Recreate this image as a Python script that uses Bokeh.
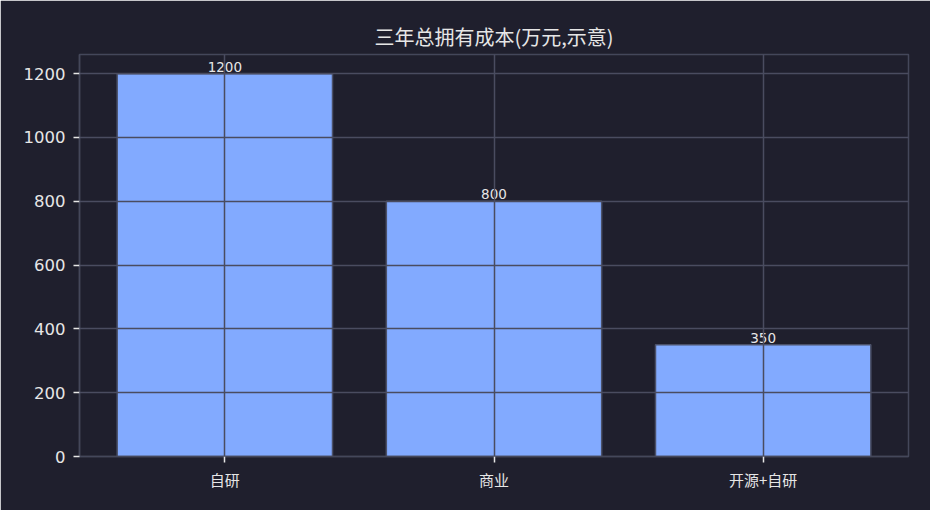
from bokeh.plotting import figure
from bokeh.models import ColumnDataSource, Range1d, FixedTicker, LabelSet
from bokeh.core.properties import value
from bokeh.embed import file_html
from bokeh.resources import INLINE

categories = ["自研", "商业", "开源+自研"]
values = [1200, 800, 350]
label_texts = ["1200", "800", "350"]
y_ticks = [0, 200, 400, 600, 800, 1000, 1200]

BG = "#1f1f2d"
BAR = "#82aaff"
EDGE = "#4b5169"
GRID = "#4a4c60"
SPINE = "#44475a"
TXT = "#e6e6e6"
CJK = "Noto Sans CJK SC"

xs = list(range(len(categories)))
src = ColumnDataSource(dict(x=xs, top=values, label=label_texts))

p = figure(width=930, height=510, output_backend="svg", toolbar_location=None,
           x_range=Range1d(-0.54, len(categories) - 1 + 0.54),
           y_range=Range1d(0, 1260),
           min_border_left=79, min_border_right=22, min_border_top=54, min_border_bottom=54,
           title="三年总拥有成本(万元,示意)")

p.background_fill_color = BG
p.border_fill_color = BG
p.outline_line_color = SPINE
p.outline_line_width = 1.5

p.title.text_color = TXT
p.title.text_font = CJK
p.title.text_font_size = "20px"
p.title.text_font_style = "normal"
p.title.align = "center"
p.title.offset = 0
p.title.standoff = 8

p.vbar(x="x", top="top", width=0.8, bottom=0, source=src,
       fill_color=BAR, line_color=EDGE, line_width=1.5)

labels = LabelSet(x="x", y="top", text="label", source=src,
                  text_align="center", text_baseline="bottom", y_offset=2,
                  text_color=TXT, text_font_size="13.5px", text_font=value("DejaVu Sans"))
p.add_layout(labels)

p.xaxis.ticker = FixedTicker(ticks=xs)
p.xaxis.major_label_overrides = {i: c for i, c in enumerate(categories)}
p.yaxis.ticker = FixedTicker(ticks=y_ticks)

for ax in (p.xaxis, p.yaxis):
    ax.axis_line_color = SPINE
    ax.axis_line_width = 1.5
    ax.major_tick_line_color = TXT
    ax.major_tick_line_width = 1.5
    ax.major_tick_out = 6
    ax.major_tick_in = 0
    ax.minor_tick_line_color = None
    ax.major_label_text_color = TXT

p.xaxis.major_label_standoff = 6
p.yaxis.major_label_standoff = 8
p.xaxis.major_label_text_font = CJK
p.xaxis.major_label_text_font_size = "15px"
p.yaxis.major_label_text_font = "DejaVu Sans"
p.yaxis.major_label_text_font_size = "16.5px"

for g in (p.xgrid, p.ygrid):
    g.grid_line_color = GRID
    g.grid_line_width = 1.5
    g.level = "overlay"

open("out.html", "w").write(file_html(p, INLINE))
